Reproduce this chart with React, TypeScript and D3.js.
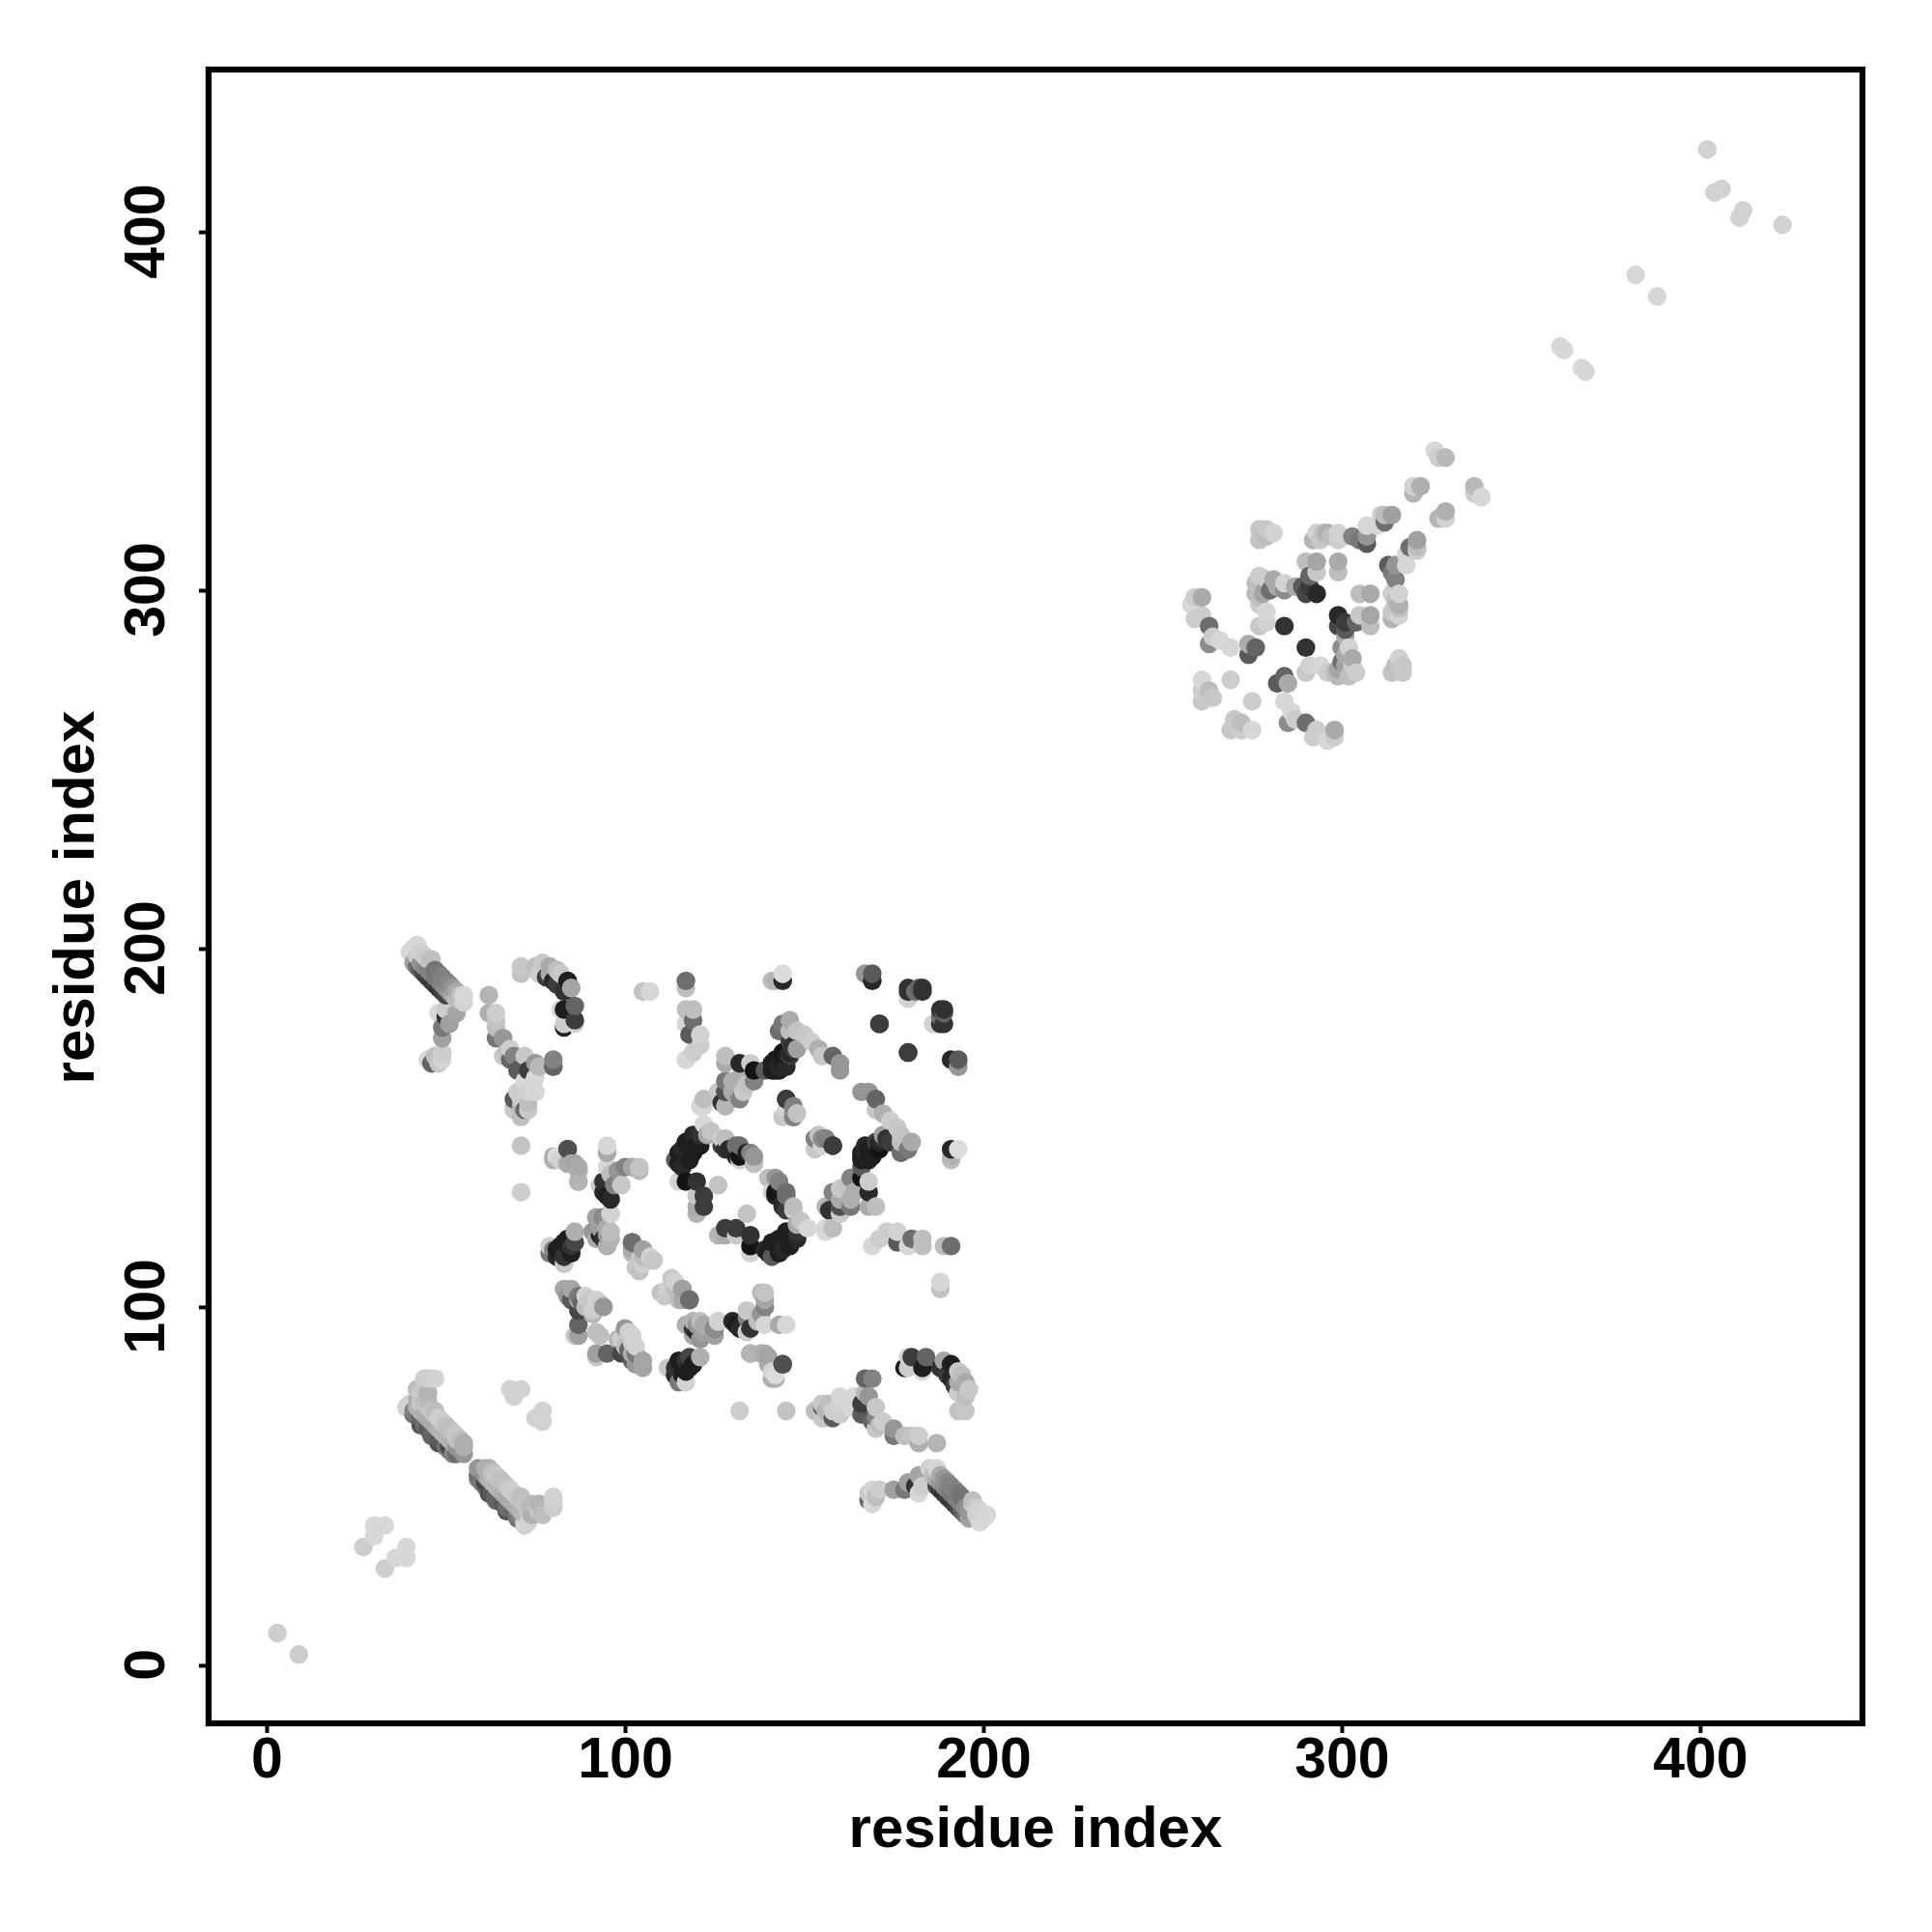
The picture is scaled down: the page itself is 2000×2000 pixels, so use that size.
import React, { useEffect, useRef } from 'react';
import * as d3 from 'd3';

type Contact = [number, number, number];

// contacts as [residue i, residue j, grey level]; the map is symmetric so only one side is listed
const strandA: Contact[] = [
  [40,199,215],[41,200,215],[42,201,215],[42,198,205],[43,199,210],[44,198,205],[45,197,200],[46,197,190],
  [41,196,160],[42,195,110],[43,194,90],[44,193,70],[45,192,60],[46,191,55],[47,190,60],[48,189,50],[49,188,60],[50,187,70],
  [43,196,150],[44,195,140],[45,194,130],[46,193,130],[47,192,120],[48,191,120],[49,190,130],[50,189,140],[51,188,150],[52,187,170],[53,186,190],
  [47,194,115],[48,193,120],[49,192,130],[50,191,130],[51,190,135],[52,189,150],[53,188,170],[54,187,190],[55,187,215],[55,185,210],
];
const branchA: Contact[] = [
  [45,169,215],[46,168,100],[47,170,190],[48,168,200],[49,171,205],[49,169,212],[49,175,160],[49,178,120],[48,182,215],
  [50,181,50],[50,183,205],[51,179,160],[53,182,165],
];
const strandB: Contact[] = [
  [62,187,180],[62,182,175],[64,182,205],[64,180,195],[64,178,190],[64,175,120],[66,175,150],[66,170,200],[68,172,205],
  [67,171,190],[68,169,100],[69,170,130],[70,166,90],[72,170,200],[73,166,60],[75,168,150],[76,167,185],[80,169,130],[80,167,100],
  [72,163,215],[75,164,215],[74,162,215],[73,160,210],[71,158,205],[75,160,215],[73,157,190],[69,158,90],[70,160,205],
  [69,156,200],[69,155,200],[71,156,180],[72,155,100],[73,155,200],[71,153,190],
];
const arcC: Contact[] = [
  [71,195,200],[71,193,195],[75,195,190],[77,196,200],[76,193,205],[79,195,170],[78,192,60],[79,193,170],[81,194,190],[82,193,200],
  [80,191,40],[81,190,60],[84,191,30],[85,189,165],[83,188,50],[86,184,100],[83,183,30],[82,183,215],[86,180,60],[83,179,205],[83,178,30],[86,179,210],
  [105,188,195],[107,188,215],
];
const scatterLeft: Contact[] = [
  [71,145,195],[71,132,205],[80,142,175],[81,142,220],[84,144,80],[84,140,170],[85,140,170],[86,140,165],[87,138,165],[87,135,170],
  [95,145,215],[95,143,170],[95,139,215],[96,137,190],[98,138,150],[100,139,130],[102,139,165],[104,139,195],[104,138,185],
  [99,134,200],[94,135,50],[93,134,205],[97,134,130],[95,131,30],[96,130,40],[94,132,40],[96,126,210],[94,125,60],[92,125,160],[95,122,190],
  [87,135,180],[87,138,180],[87,139,170],[84,144,80],[82,141,210],[80,141,175],
];
const clusterD: Contact[] = [
  [79,115,120],[79,117,210],[80,116,130],[81,116,30],[81,114,40],[82,117,30],[83,118,30],[83,114,50],[84,119,30],[85,117,50],[85,115,30],[86,118,70],[86,121,175],
  [83,112,200],
];
const clusterE: Contact[] = [
  [91,121,150],[92,119,170],[93,120,40],[93,122,160],[94,119,50],[94,125,140],[95,122,170],[95,120,150],[95,117,175],[96,121,190],[96,119,180],[96,126,210],
];
const clusterF: Contact[] = [
  [102,118,120],[102,116,170],[105,116,160],[105,112,210],[105,114,190],[107,114,210],[103,111,200],[102,115,190],
];
const clusterG: Contact[] = [
  [83,105,165],[85,105,165],[85,102,90],[84,103,150],[87,102,175],[87,103,120],[89,103,210],[88,101,100],[90,102,200],[92,102,210],[89,100,190],[87,99,70],[91,99,205],[93,101,205],[94,100,150],
  [87,95,100],[86,92,200],[87,92,160],[91,98,180],[93,92,190],
];
const diagonalMiddle: Contact[] = [
  [105,113,205],[104,110,195],[104,113,200],[102,118,110],
];
const clusterJ: Contact[] = [
  [113,108,200],[116,105,160],[118,102,110],
];
const upperSpots: Contact[] = [
  [117,191,110],[117,189,190],[117,183,190],[119,183,190],[117,179,215],[119,180,110],[118,176,90],[121,176,210],[121,173,205],[119,171,205],[117,169,215],
  [141,191,190],[144,191,40],[144,193,220],[142,191,180],[167,193,150],[169,193,90],[169,191,40],
  [179,189,50],[179,187,210],[182,189,100],[183,189,50],[171,179,60],[179,171,60],
  [188,183,50],[188,179,50],[188,181,110],[186,179,210],
];
const ringTop: Contact[] = [
  [144,179,120],[143,177,110],[146,180,170],[146,177,190],[148,177,195],[150,176,200],[152,174,205],[154,172,175],[158,170,100],[155,170,200],[160,168,150],[160,166,150],
  [146,174,60],[147,172,60],[139,166,90],[141,166,30],[142,169,30],[144,171,20],[146,170,60],[143,167,40],[141,168,30],[147,173,50],
  [142,166,30],[143,166,30],[144,168,30],[145,167,40],[145,170,30],[146,171,40],[148,172,160],
  [128,170,190],[128,168,170],[132,168,40],[135,168,205],[136,166,20],[136,163,130],[132,164,175],[128,163,120],[133,160,200],
  [128,160,80],[127,157,50],[132,158,130],[130,160,170],[130,163,175],[134,162,195],[128,156,180],[126,160,200],[122,158,190],[122,156,215],
];
const ringInner: Contact[] = [
  [145,158,70],[147,156,130],[145,155,210],[148,154,195],[147,153,110],[153,147,130],[153,144,200],[155,147,140],[158,145,60],
  [127,147,205],[127,145,60],[129,144,40],[131,145,110],[131,142,40],[135,143,130],[134,143,30],
  [136,140,190],[136,142,150],[132,141,210],[132,142,20],[132,145,110],[128,144,50],[128,147,190],
  [126,134,195],[121,156,215],[122,158,190],
];
const ringLeft: Contact[] = [
  [114,141,90],[115,143,30],[116,144,40],[117,146,30],[119,148,40],[121,148,50],[123,148,170],[122,151,215],[124,149,195],
  [115,140,30],[116,139,40],[118,141,30],[119,143,30],[120,145,30],[121,145,30],
  [115,135,210],[120,135,50],[117,135,20],[122,131,60],[120,131,200],[122,128,60],[120,128,170],[120,126,180],
];
const strandT: Contact[] = [
  [46,80,205],[44,80,205],[42,77,180],[43,76,200],[45,76,190],[45,74,185],[40,73,210],[39,72,210],
  [41,71,130],[42,70,120],[43,69,100],[44,67,110],[45,66,90],[47,64,100],[48,63,90],[50,61,110],[51,60,120],[52,59,130],
  [42,72,180],[43,71,180],[44,70,175],[45,69,170],[46,68,170],[47,67,170],[48,66,175],[49,65,180],[50,64,180],[51,63,180],[52,62,175],[53,61,150],
  [44,73,190],[45,72,195],[46,71,195],[47,70,200],[48,69,205],[49,68,205],[50,67,195],[51,66,190],[52,65,195],[53,64,200],[54,63,190],[55,62,175],
];
const strandU: Contact[] = [
  [53,59,110],[55,61,175],[55,59,150],[53,63,190],[51,65,185],[49,68,205],[47,71,190],[48,62,80],[46,64,100],[51,61,70],[43,67,80],[41,70,110],
  [43,73,200],[40,72,215],[42,74,175],[45,76,180],[42,77,190],[47,80,210],[45,80,205],
];
const diagonalLow: Contact[] = [
  [3,9,205],[27,33,205],[30,39,215],[33,39,215],[30,36,215],[68,77,210],[71,77,210],[69,75,210],
];
const domainUpper: Contact[] = [
  [261,298,170],[259,298,205],[258,296,215],[259,292,205],[261,293,205],[263,290,110],[264,287,205],[263,285,140],[266,286,215],[269,284,215],[274,285,170],[276,284,100],[274,282,90],
  [261,275,215],[261,272,205],[264,270,200],[261,269,200],[263,272,190],[269,275,205],
  [277,317,200],[277,314,195],[279,317,200],[281,316,210],[279,315,190],[278,316,195],
  [277,304,205],[276,302,190],[276,299,185],[277,298,190],[279,303,205],[281,303,170],[280,300,110],[278,299,165],[284,302,210],[284,300,140],[277,296,205],[279,294,215],[277,290,200],[279,291,210],[284,290,50],
  [282,301,170],[279,301,160],
  [290,308,190],[293,308,165],[291,304,100],[293,305,200],[289,301,90],[287,301,170],[290,299,70],[293,299,40],[291,301,60],
  [293,316,210],[292,314,180],[295,316,190],[294,314,200],[296,316,175],[299,316,210],[299,314,205],[297,315,190],[303,315,130],[305,314,120],[307,313,90],[307,315,150],[307,318,215],[311,321,205],[310,318,215],[312,319,110],[314,321,160],[312,321,190],
  [299,308,170],[299,305,190],
  [320,329,210],[322,329,175],[320,327,180],[326,339,215],[327,337,205],[329,337,185],
];
const diagonalHigh: Contact[] = [
  [361,368,215],[362,367,215],[382,388,215],[402,423,210],[404,411,210],[406,412,210],
];

const contacts: Contact[] = [
  ...strandA, ...branchA, ...strandB, ...arcC, ...scatterLeft, ...clusterD, ...clusterE, ...clusterF, ...clusterG,
  ...diagonalMiddle, ...clusterJ, ...upperSpots, ...ringTop, ...ringInner, ...ringLeft, ...strandT, ...strandU,
  ...diagonalLow, ...domainUpper, ...diagonalHigh,
];

const tickValues = [0, 100, 200, 300, 400];
const axisLabel = 'residue index';
const fontFamily = '"Liberation Sans", Arial, sans-serif';

export default function App() {
  const svgRef = useRef<SVGSVGElement>(null);

  useEffect(() => {
    const svg = d3.select(svgRef.current);
    svg.selectAll('*').remove();

    const left = 215.9, right = 1928, top = 72, bottom = 1784;
    const x = d3.scaleLinear().domain([-16.2, 445.3]).range([left, right]);
    const y = d3.scaleLinear().domain([-16.2, 445.3]).range([bottom, top]);

    // draw each contact on both sides of the diagonal
    const points = contacts
      .flatMap(([a, b, g]) => [[a, b, g], [b, a, g]])
      .sort((p, q) => d3.ascending(p[0], q[0]) || d3.ascending(p[1], q[1]));

    svg.append('g')
      .selectAll('circle')
      .data(points)
      .join('circle')
      .attr('cx', d => x(d[0]))
      .attr('cy', d => y(d[1]))
      .attr('r', 9.7)
      .attr('fill', d => d3.rgb(d[2], d[2], d[2]).formatHex());

    svg.append('rect')
      .attr('x', left)
      .attr('y', top)
      .attr('width', right - left)
      .attr('height', bottom - top)
      .attr('fill', 'none')
      .attr('stroke', '#000')
      .attr('stroke-width', 6.2);

    const xAxis = svg.append('g')
      .attr('transform', `translate(0,${bottom})`)
      .call(d3.axisBottom(x).tickValues(tickValues).tickSize(10).tickPadding(0));
    const yAxis = svg.append('g')
      .attr('transform', `translate(${left},0)`)
      .call(d3.axisLeft(y).tickValues(tickValues).tickSize(10).tickPadding(0));

    for (const axis of [xAxis, yAxis]) {
      axis.select('.domain').remove();
      axis.selectAll('line').attr('stroke', '#000').attr('stroke-width', 4);
      axis.selectAll('text')
        .attr('fill', '#000')
        .attr('font-family', fontFamily)
        .attr('font-weight', 'bold')
        .attr('font-size', 59);
    }
    xAxis.selectAll('text').attr('y', 56).attr('dy', 0);
    yAxis.selectAll('text')
      .attr('x', 0)
      .attr('dy', 0)
      .attr('text-anchor', 'middle')
      .attr('transform', 'translate(-46,-1) rotate(-90)');

    svg.append('text')
      .attr('x', (left + right) / 2)
      .attr('y', 1912)
      .attr('text-anchor', 'middle')
      .attr('font-family', fontFamily)
      .attr('font-weight', 'bold')
      .attr('font-size', 60)
      .text(axisLabel);

    svg.append('text')
      .attr('transform', `translate(97,${(top + bottom) / 2 + 1}) rotate(-90)`)
      .attr('text-anchor', 'middle')
      .attr('font-family', fontFamily)
      .attr('font-weight', 'bold')
      .attr('font-size', 60)
      .text(axisLabel);
  }, []);

  return <svg ref={svgRef} width={2000} height={2000} style={{ position: 'absolute', left: 0, top: 0, background: '#fff' }} />;
}
